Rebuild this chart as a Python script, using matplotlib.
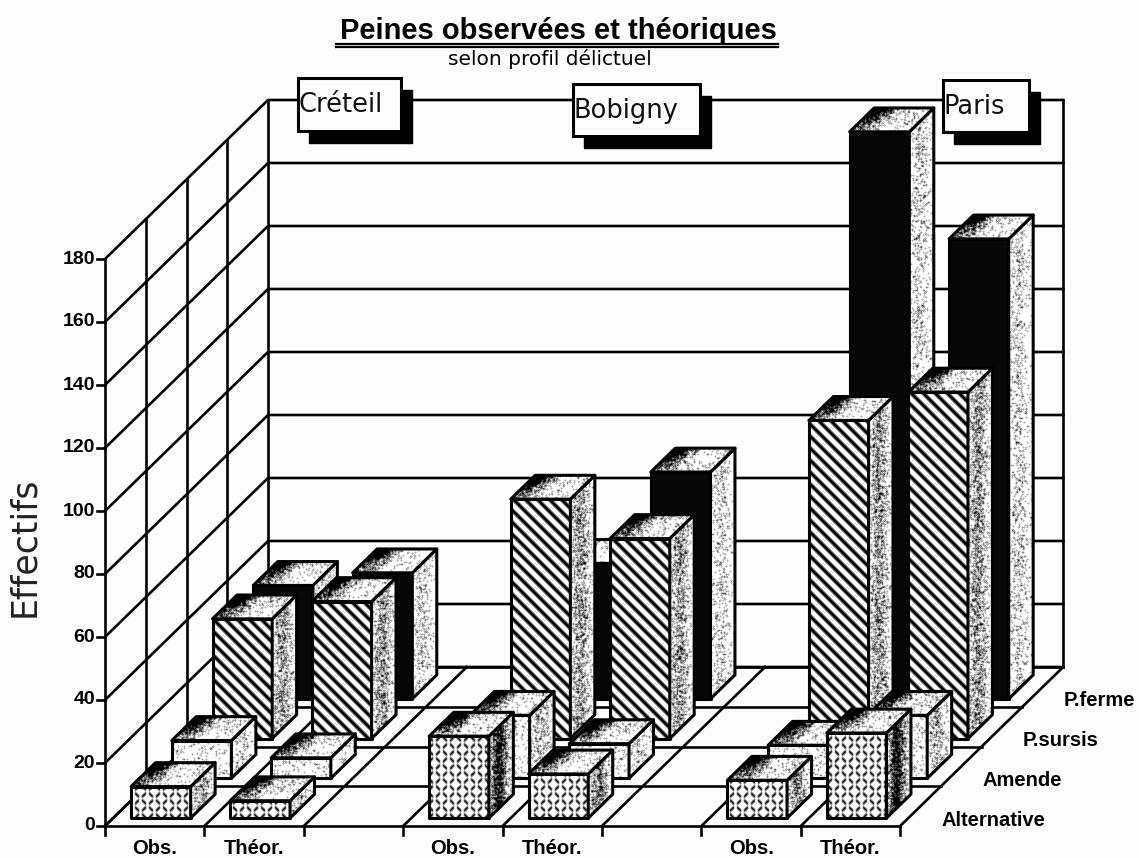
import numpy as np
from matplotlib import pyplot as plt
from matplotlib.patches import Polygon, Rectangle

columns = ["Obs.", "Théor.", "", "Obs.", "Théor.", "", "Obs.", "Théor."]
rows = ["Alternative", "Amende", "P.sursis", "P.ferme"]
y_ticks = [0, 20, 40, 60, 80, 100, 120, 140, 160, 180]

alternative = [10, 5.5, None, 26, 14, None, 12, 27]
amende = [12, 6.5, None, 20, 11, None, 10.5, 20]
sursis = [38, 43.5, None, 76, 63.5, None, 101, 110]
ferme = [36, 40, None, 43, 72, None, 180, 146]
series = [alternative, amende, sursis, ferme]

places = ["Créteil", "Bobigny", "Paris"]

# the oblique view of the scan, in pixels
X0, Y0 = 105, 826
COL_W = 99.4
DX, DY = 40.75, 39.75
UNIT = 3.15
BAR_W = 0.6
BAR_SHIFT = -2
BG = "#fdfdfb"


def project(col, depth, value=0):
    return X0 + col * COL_W + depth * DX, Y0 - depth * DY - value * UNIT


def noise(x, y):
    s = np.sin(x * 12.9898 + y * 78.233) * 43758.5453
    return s - np.floor(s)


def soften(img):
    out = img.copy()
    for sx, sy in [(1, 0), (-1, 0), (0, 1), (0, -1)]:
        out = out + 0.6 * np.roll(np.roll(img, sx, axis=1), sy, axis=0)
    return out / 3.4


def fill_face(ax, pts, pattern, z):
    pts = np.array(pts)
    x0, y0 = np.floor(pts.min(axis=0))
    x1, y1 = np.ceil(pts.max(axis=0))
    x, y = np.meshgrid(np.arange(x0, x1 + 1), np.arange(y0, y1 + 1))
    img = pattern(x, y)
    im = ax.imshow(img, extent=(x0, x1 + 1, y1 + 1, y0), cmap="gray", vmin=0, vmax=1,
                   interpolation="bilinear", aspect="auto", zorder=z)
    im.set_clip_path(Polygon(pts, transform=ax.transData))
    ax.add_patch(Polygon(pts, closed=True, fill=False, ec="black", lw=2.2, joinstyle="round", zorder=z + 0.5))


def stipple(x, y, density):
    # fine grains, softened so the grey looks like the photocopy
    grain = noise(x, y)
    return soften(np.where(grain < density, 0.0, 1.0))


def draw_bar(ax, col, row, value, z):
    left, right = col + (1 - BAR_W) / 2, col + (1 + BAR_W) / 2
    front, back = row + 0.2, row + 0.8

    def at(c, d, v=0):
        px, py = project(c, d, v)
        return px + BAR_SHIFT, py

    fl = at(left, front)
    fr = at(right, front)
    tl = at(left, front, value)
    tr = at(right, front, value)
    bl = at(left, back, value)
    br = at(right, back, value)
    gr = at(right, back)
    w = fr[0] - fl[0]
    d = br[0] - tr[0]

    def front_pattern(x, y):
        if row == 3:
            return np.zeros_like(x) + 0.03
        if row == 2:
            return soften(np.where((x - y) % 12 < 4.5, 0.0, 1.0))
        if row == 1:
            return stipple(x, y, 0.07)
        cell = 7
        even = (np.floor(x / cell) + np.floor(y / cell)) % 2 == 0
        u, v = (x % cell) - cell / 2, (y % cell) - cell / 2
        dash = np.where(even, np.abs(u - v), np.abs(u + v)) < 1.3
        dash &= np.abs(u) < 2.4
        return soften(np.where(dash, 0.0, 1.0))

    def top_pattern(x, y):
        up = np.clip((tl[1] - y) / d, 0, 1)
        t = np.clip((x - tl[0] - up * d) / w, 0, 1)
        return stipple(x, y, np.clip(1.35 - 2.7 * t, 0.1, 1) * (0.4 + 0.95 * up))

    def side_pattern(x, y):
        s = np.clip((x - tr[0]) / d, 0, 1)
        strength = [0.9, 0.3, 0.38, 0.14][row] * min(value / 25, 1)
        return stipple(x, y, 0.03 + strength * np.exp(-((s - 0.4) / 0.32) ** 2))

    fill_face(ax, [fl, fr, tr, tl], front_pattern, z)
    fill_face(ax, [fr, gr, br, tr], side_pattern, z + 1)
    fill_face(ax, [tl, tr, br, bl], top_pattern, z + 2)


fig = plt.figure(figsize=(11.39, 8.58), dpi=100, facecolor=BG)
ax = fig.add_axes([0, 0, 1, 1])
ax.set_xlim(0, 1139)
ax.set_ylim(858, 0)
ax.axis("off")

line = dict(color="black", lw=1.9, zorder=1, solid_capstyle="projecting")
n_cols = len(columns)
n_rows = len(rows)
top = y_ticks[-1]

# walls
for v in y_ticks:
    a, b, c = project(0, 0, v), project(0, n_rows, v), project(n_cols, n_rows, v)
    ax.plot([a[0], b[0], c[0]], [a[1], b[1], c[1]], **line)
    ax.plot([a[0] - 8, a[0]], [a[1], a[1]], **line)
    ax.text(a[0] - 10, a[1], str(v), ha="right", va="center", fontsize=14, fontweight="bold", family="Liberation Sans")
for d in range(n_rows + 1):
    a, b = project(0, d), project(0, d, top)
    ax.plot([a[0], b[0]], [a[1], b[1]], **line)
    a, b = project(0, d), project(n_cols, d)
    ax.plot([a[0], b[0]], [a[1], b[1]], **line)
a, b = project(n_cols, n_rows), project(n_cols, n_rows, top)
ax.plot([a[0], b[0]], [a[1], b[1]], **line)

# floor
for c in range(n_cols + 1):
    a, b = project(c, 0), project(c, n_rows)
    ax.plot([a[0], b[0]], [a[1], b[1]], **line)
    ax.plot([a[0], a[0]], [a[1], a[1] + 9], **line)

for c, name in enumerate(columns):
    x, y = project(c + 0.5, 0)
    ax.text(x, y + 22, name, ha="center", va="center", fontsize=14.5, fontweight="bold", family="Liberation Sans")

for r, name in enumerate(rows):
    x, y = project(n_cols, r + 0.2)
    ax.text(x + 33, y + 2, name, ha="left", va="center", fontsize=14.5, fontweight="bold", family="Liberation Sans")

# back row first so the front bars cover the ones behind
z = 2
for r in range(n_rows - 1, -1, -1):
    for c in range(n_cols):
        if series[r][c] is not None:
            draw_bar(ax, c, r, series[r][c], z)
            z += 3

ax.set_xlim(0, 1139)
ax.set_ylim(858, 0)

boxes = [(298, 78, 103, 53), (573, 84, 127, 52), (943, 80, 86, 52)]
for name, (x, y, w, h) in zip(places, boxes):
    ax.add_patch(Rectangle((x + 11, y + 12), w, h, fc="black", ec="black", zorder=z))
    ax.add_patch(Rectangle((x, y), w, h, fc=BG, ec="black", lw=2.2, zorder=z + 1))
    ax.text(x + 1, y + h / 2 + 1, name, ha="left", va="center", fontsize=18.5, color="#111111",
            family="DejaVu Sans", zorder=z + 2)

ax.text(558, 31, "Peines observées et théoriques", ha="center", va="center", fontsize=21, fontweight="bold",
        family="Liberation Sans", zorder=z)
ax.plot([336, 778], [44, 44], color="black", lw=1.6, zorder=z)
ax.plot([336, 778], [47, 47], color="black", lw=1.6, zorder=z)
ax.text(550, 59, "selon profil délictuel", ha="center", va="center", fontsize=14.5, family="DejaVu Sans", zorder=z)
ax.text(24, 547, "Effectifs", rotation=90, ha="center", va="center", fontsize=25, color="#222222",
        family="DejaVu Sans")

fig.savefig("out.png", dpi=100, facecolor=BG)
